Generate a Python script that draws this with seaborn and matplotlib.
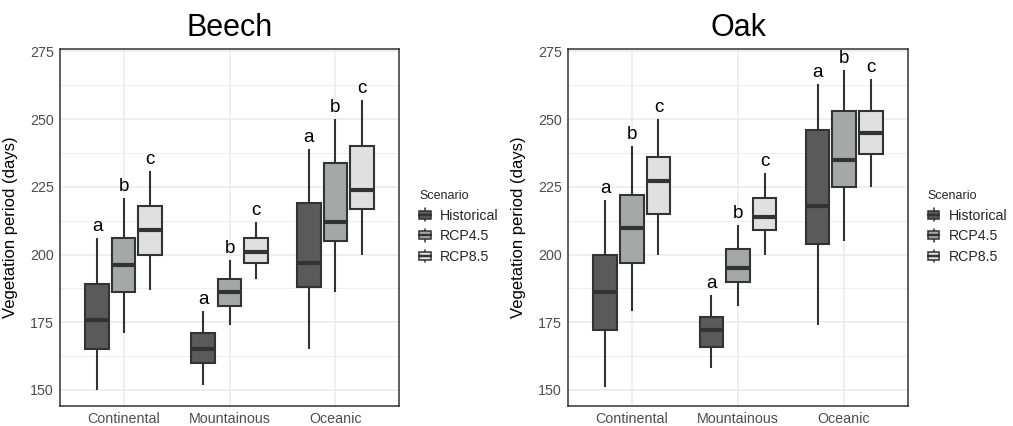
import numpy as np
import pandas as pd
import matplotlib
matplotlib.use("Agg")
import matplotlib.pyplot as plt
import seaborn as sns
from matplotlib.legend_handler import HandlerBase
from matplotlib.patches import Rectangle, Patch
from matplotlib.lines import Line2D
from matplotlib.ticker import MultipleLocator

# ---------------- data (rows: region, cols: scenario) ----------------
regions = ["Continental", "Mountainous", "Oceanic"]
scenarios = ["Historical", "RCP4.5", "RCP8.5"]
letters = ["a", "b", "c"]

beech_low = [[150, 171, 187], [152, 174, 191], [165, 186, 200]]
beech_q1 = [[165, 186, 200], [160, 181, 197], [188, 205, 217]]
beech_med = [[176, 196, 209], [165, 186, 201], [197, 212, 224]]
beech_q3 = [[189, 206, 218], [171, 191, 206], [219, 234, 240]]
beech_high = [[206, 221, 231], [179, 198, 212], [239, 250, 257]]

oak_low = [[151, 179, 200], [158, 181, 200], [174, 205, 225]]
oak_q1 = [[172, 197, 215], [166, 190, 209], [204, 225, 237]]
oak_med = [[186, 210, 227], [172, 195, 214], [218, 235, 245]]
oak_q3 = [[200, 222, 236], [177, 202, 221], [246, 253, 253]]
oak_high = [[220, 240, 250], [185, 211, 230], [263, 268, 265]]

fill_colors = ["#5a5a5a", "#a6a8a8", "#e0e0e0"]
edge_color = "#333333"


def build_frame(low, q1, med, q3, high):
    rows = []
    for i, reg in enumerate(regions):
        for j, sc in enumerate(scenarios):
            for v in (low[i][j], q1[i][j], med[i][j], q3[i][j], high[i][j]):
                rows.append({"Region": reg, "Scenario": sc, "Days": v})
    return pd.DataFrame(rows)


beech_df = build_frame(beech_low, beech_q1, beech_med, beech_q3, beech_high)
oak_df = build_frame(oak_low, oak_q1, oak_med, oak_q3, oak_high)

# ---------------- style ----------------
sns.set_theme(style="white")
plt.rcParams["font.family"] = ["Liberation Sans", "DejaVu Sans"]

W, H = 1013, 426
fig = plt.figure(figsize=(W / 100, H / 100), dpi=100)

panel_bottom = 1 - 405.7 / H
panel_top = 1 - 49.3 / H
beech_ax = fig.add_axes([60 / W, panel_bottom, (399 - 60) / W, panel_top - panel_bottom])
oak_ax = fig.add_axes([568.3 / W, panel_bottom, (907.7 - 568.3) / W, panel_top - panel_bottom])

box_width = 0.75


class BoxHandler(HandlerBase):
    def create_artists(self, legend, orig_handle, xdescent, ydescent, width, height, fontsize, trans):
        x0, y0 = -xdescent, -ydescent
        fc = orig_handle.get_facecolor()
        lw = 1.1
        wl1 = Line2D([x0 + width / 2] * 2, [y0, y0 + 0.2 * height], color=edge_color, lw=lw, transform=trans)
        wl2 = Line2D([x0 + width / 2] * 2, [y0 + 0.8 * height, y0 + height], color=edge_color, lw=lw, transform=trans)
        box = Rectangle((x0, y0 + 0.2 * height), width, 0.6 * height, facecolor=fc,
                        edgecolor=edge_color, lw=lw, transform=trans)
        med = Line2D([x0, x0 + width], [y0 + 0.5 * height] * 2, color=edge_color, lw=1.7, transform=trans)
        return [wl1, wl2, box, med]


def draw_panel(ax, df, high, title):
    sns.boxplot(data=df, x="Region", y="Days", hue="Scenario", order=regions,
                hue_order=scenarios, palette=fill_colors, saturation=1,
                width=box_width, gap=0.1, whis=(0, 100), showfliers=False, showcaps=False,
                linecolor=edge_color, linewidth=1.5,
                medianprops={"linewidth": 3, "color": edge_color},
                legend=False, ax=ax)
    ax.set_xlim(-0.6, 2.6)
    ax.set_ylim(144.2, 275.8)
    ax.yaxis.set_major_locator(MultipleLocator(25))
    ax.yaxis.set_minor_locator(MultipleLocator(12.5))
    ax.set_axisbelow(True)
    ax.grid(which="major", axis="both", color="#ebebeb", linewidth=1.1)
    ax.grid(which="minor", axis="y", color="#ebebeb", linewidth=0.6)
    ax.tick_params(axis="y", which="minor", length=0)
    ax.tick_params(axis="both", which="major", length=2.5, width=1, color=edge_color,
                   labelcolor="#4d4d4d", labelsize=10.3, pad=2)
    for sp in ax.spines.values():
        sp.set_visible(True)
        sp.set_color(edge_color)
        sp.set_linewidth(1.1)
    ax.set_xlabel("")
    ax.set_ylabel("Vegetation period (days)", fontsize=12, color="black")
    ax.yaxis.set_label_coords(-0.124, 0.5)
    ax.set_title(title, fontsize=22, pad=9.5, color="black")
    # significance letters above the upper whiskers (dodged positions)
    offsets = (np.arange(len(scenarios)) - (len(scenarios) - 1) / 2) * box_width / len(scenarios)
    for i in range(len(regions)):
        for j in range(len(scenarios)):
            ax.text(i + offsets[j], high[i][j] + 2.6, letters[j], ha="center", va="baseline",
                    fontsize=13.5, color="black", clip_on=False)
    handles = [Patch(facecolor=c, edgecolor=edge_color, label=s) for c, s in zip(fill_colors, scenarios)]
    pos = ax.get_position()
    fig.legend(handles=handles, handler_map={Patch: BoxHandler()}, loc="upper left",
               bbox_to_anchor=(pos.x1 + 20 / W, 1 - 190 / H), frameon=False,
               title="Scenario", title_fontsize=9, fontsize=10.2, alignment="left",
               handlelength=0.82, handleheight=1.0, handletextpad=0.65,
               labelspacing=0.45, borderpad=0, borderaxespad=0)


draw_panel(beech_ax, beech_df, beech_high, "Beech")
draw_panel(oak_ax, oak_df, oak_high, "Oak")

fig.savefig("out.png", dpi=100)
